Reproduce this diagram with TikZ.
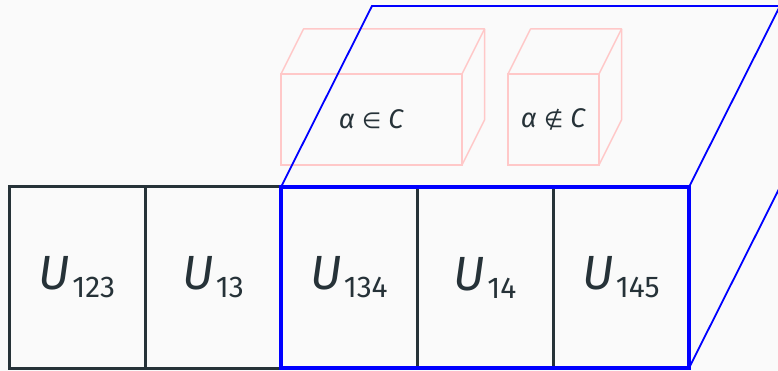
\documentclass[tikz,border=0pt]{standalone}
\usepackage{fontspec}
\setmainfont{Fira Sans}
\newfontfamily\symfont{DejaVu Sans}
\usetikzlibrary{positioning, calc}
\definecolor{ink}{HTML}{263238}
\definecolor{paper}{HTML}{FAFAFA}
\definecolor{blush}{HTML}{FFC8C8}
\newcommand{\usub}[1]{\textit{U}\kern2pt\raisebox{-8pt}{\fontsize{30}{30}\selectfont #1}}

\begin{document}
\begin{tikzpicture}[
  x=1pt, y=-1pt,
  cell/.style={rectangle, draw=ink, line width=3pt, outer sep=0pt, inner sep=0pt,
               minimum width=136pt, minimum height=181pt, text=ink,
               font=\fontsize{48}{48}\selectfont},
  face/.style={rectangle, draw=blush, line width=1.5pt, outer sep=0pt, inner sep=0pt,
               minimum height=91pt, text=ink, font=\fontsize{27}{27}\selectfont},
  edge/.style={draw=blush, line width=1.5pt, line join=round},
  frame/.style={draw=blue, line width=4pt},
  slant/.style={draw=blue, line width=1.8pt}
]
\clip (0,0) rectangle (778,371);
\fill[paper] (0,0) rectangle (778,371);

% row of cells
\node[cell] (u1) at (77,277.5) {\usub{123}};
\node[cell, right=0pt of u1] (u2) {\usub{13}};
\node[cell, right=0pt of u2] (u3) {\usub{134}};
\node[cell, right=0pt of u3] (u4) {\usub{14}};
\node[cell, right=0pt of u4] (u5) {\usub{145}};

% pink boxes
\node[face, minimum width=181pt] (in) at (371.5,119.5) {\textit{α} {\symfont\fontsize{22}{22}\selectfont ∈} \textit{C}};
\node[face, minimum width=91pt] (out) at (553.5,119.5) {\textit{α} {\symfont\fontsize{22}{22}\selectfont ∉} \textit{C}};
\foreach \b in {in, out} {
  \draw[edge] (\b.north west) -- ++(22.5,-45) -- ($(\b.north east)+(22.5,-45)$)
    -- ($(\b.south east)+(22.5,-45)$) -- (\b.south east);
  \draw[edge] (\b.north east) -- ++(22.5,-45);
}

% blue block
\coordinate (bnw) at ($(u3.north west)+(91,-181)$);
\coordinate (bne) at ($(u5.north east)+(91,-181)$);
\coordinate (bse) at ($(u5.south east)+(91,-181)$);
\draw[slant] (u3.north west) -- (bnw) -- (bne);
\draw[slant] (u5.north east) -- (bne);
\draw[slant] (u5.south east) -- (bse);
\draw[frame] (u3.north west) rectangle (u5.south east);
\end{tikzpicture}
\end{document}
